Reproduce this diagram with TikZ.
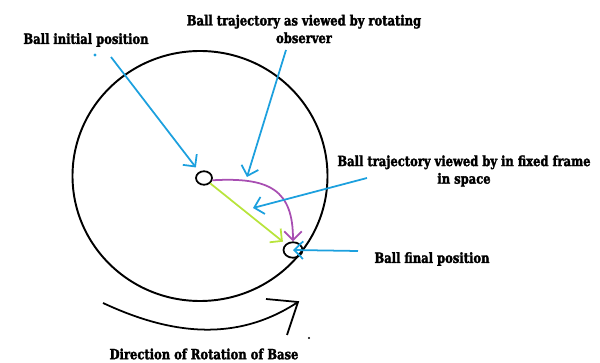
\documentclass[tikz,border=0pt]{standalone}
\usepackage{fontspec}
\setmainfont{DejaVu Serif}[FakeStretch=0.82,FakeBold=2]
\usetikzlibrary{arrows.meta,shapes.geometric}
\definecolor{skyblue}{RGB}{28,160,222}
\definecolor{plum}{RGB}{168,78,178}
\definecolor{lime}{RGB}{184,228,60}
\begin{document}
\begin{tikzpicture}[
    lbl/.style={font=\fontsize{8}{10}\selectfont\bfseries, align=center, inner sep=0pt},
    ball/.style={ellipse, draw, line width=1pt, inner sep=0pt},
    tip/.style={-{Straight Barb[length=5pt,width=10pt]}, line width=1pt}]
  \useasboundingbox (0,0) rectangle (12,7.24);
  % base
  \draw[line width=1.1pt] (4.0,3.72) ellipse (2.55 and 2.5);
  \node[ball, minimum width=0.32cm, minimum height=0.27cm] (binit) at (4.08,3.68) {};
  \node[ball, minimum width=0.38cm, minimum height=0.31cm] (bfin) at (5.86,2.24) {};
  % trajectories
  \draw[tip, plum] (binit.-15) .. controls (5.40,3.70) and (5.86,3.44) .. (bfin.north);
  \draw[tip, lime, shorten >=2pt] (binit.south east) -- (bfin.north west);
  % labels
  \node[lbl] (linit) at (1.72,6.44) {Ball initial position};
  \node[lbl] (lrot) at (6.08,6.66) {Ball trajectory as viewed by rotating\\observer};
  \node[lbl] (lfix) at (9.28,3.82) {Ball trajectory viewed by in fixed frame\\in space};
  \node[lbl] (lfin) at (8.64,2.06) {Ball final position};
  \node[lbl] (lbase) at (4.08,0.16) {Direction of Rotation of Base};
  % pointers
  \coordinate (s1) at (2.22,6.10);
  \coordinate (s2) at (5.72,6.24);
  \coordinate (t2) at (4.94,3.70);
  \coordinate (s3) at (7.34,3.68);
  \coordinate (t3) at (5.06,3.08);
  \coordinate (s4) at (7.16,2.22);
  \draw[tip, skyblue, shorten >=3pt] (s1) -- (binit);
  \draw[tip, skyblue] (s2) -- (t2);
  \draw[tip, skyblue] (s3) -- (t3);
  \draw[tip, skyblue] (s4) -- (bfin.center);
  \fill[skyblue] (1.90,6.14) circle (0.9pt);
  % rotation of base
  \coordinate (r0) at (2.06,1.18);
  \coordinate (r1) at (5.96,1.20);
  \draw[line width=1pt] (r0) .. controls (3.2,0.65) and (4.6,0.30) .. (r1);
  \draw[line width=1pt] (5.32,1.26) -- (r1) -- (5.74,0.54);
  \fill (6.18,0.48) circle (0.6pt);
\end{tikzpicture}
\end{document}
